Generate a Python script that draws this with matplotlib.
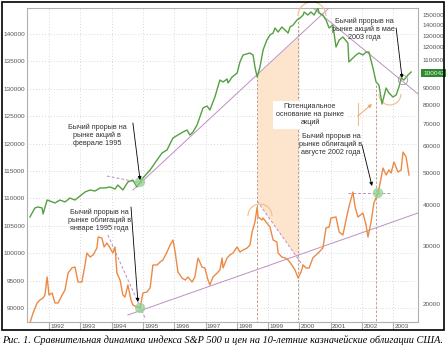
import numpy as np
import matplotlib
matplotlib.use('agg')
import matplotlib.pyplot as plt
from matplotlib.patches import Arc, Rectangle
from matplotlib.transforms import blended_transform_factory

# S&P 500 (left scale units)
spx_t = [1991.39, 1991.55, 1991.65, 1991.78, 1991.81, 1991.94, 1992.03, 1992.19, 1992.35, 1992.51,
         1992.67, 1992.83, 1992.99, 1993.15, 1993.31, 1993.47, 1993.63, 1993.79, 1993.95, 1994.11,
         1994.20, 1994.36, 1994.52, 1994.68, 1994.81, 1994.91, 1995.00, 1995.23, 1995.45, 1995.61,
         1995.77, 1995.96, 1996.12, 1996.28, 1996.41, 1996.50, 1996.60, 1996.73, 1996.82, 1996.92,
         1997.05, 1997.14, 1997.30, 1997.46, 1997.56, 1997.69, 1997.72, 1997.85, 1998.01, 1998.10,
         1998.20, 1998.42, 1998.52, 1998.58, 1998.65, 1998.74, 1998.84, 1998.96, 1999.06, 1999.16,
         1999.22, 1999.32, 1999.44, 1999.54, 1999.64, 1999.70, 1999.80, 1999.92, 2000.02, 2000.12,
         2000.15, 2000.27, 2000.37, 2000.47, 2000.59, 2000.63, 2000.75, 2000.85, 2000.95, 2001.07,
         2001.17, 2001.27, 2001.39, 2001.55, 2001.58, 2001.71, 2001.81, 2001.90, 2002.03, 2002.13,
         2002.22, 2002.35, 2002.45, 2002.54, 2002.64, 2002.77, 2002.86, 2002.99, 2003.09, 2003.18,
         2003.25, 2003.34, 2003.47, 2003.57]
spx = [106600, 108250, 108430, 108250, 107150, 109700, 109520, 109160, 109700, 109340,
       110070, 109700, 110430, 111160, 111530, 111350, 111900, 111900, 112080, 111710,
       112440, 111530, 112990, 113350, 112080, 112990, 113720, 115180, 117000, 118280,
       118830, 121020, 121570, 122110, 122480, 121570, 122110, 123390, 124850, 126500,
       126860, 126130, 128500, 131600, 131240, 131790, 131060, 132150, 132880, 134890,
       136170, 136530, 136170, 133980, 132150, 133980, 137080, 138900, 139820, 140180,
       141100, 140360, 141280, 140730, 140180, 141280, 141640, 142550, 142920, 143470,
       144010, 143470, 144010, 143470, 144740, 143830, 143470, 142550, 141100, 141640,
       137630, 138900, 139450, 138360, 134890, 135620, 136170, 136530, 136170, 136710,
       136710, 133790, 131240, 130690, 127220, 130150, 129230, 128500, 128870, 130330,
       131970, 131600, 132520, 133060]

# 10-year treasury prices (left scale units)
bond_t = [1991.39, 1991.49, 1991.62, 1991.71, 1991.81, 1991.87, 1991.94, 1992.00, 1992.10, 1992.19,
          1992.29, 1992.42, 1992.51, 1992.61, 1992.73, 1992.83, 1992.93, 1993.05, 1993.15, 1993.21,
          1993.31, 1993.41, 1993.53, 1993.57, 1993.69, 1993.76, 1993.85, 1993.95, 1994.04, 1994.11,
          1994.17, 1994.27, 1994.36, 1994.43, 1994.52, 1994.62, 1994.68, 1994.81, 1994.91, 1995.00,
          1995.13, 1995.23, 1995.32, 1995.45, 1995.55, 1995.64, 1995.77, 1995.87, 1995.96, 1996.03,
          1996.12, 1996.25, 1996.35, 1996.44, 1996.57, 1996.66, 1996.76, 1996.89, 1996.98, 1997.08,
          1997.14, 1997.24, 1997.37, 1997.46, 1997.53, 1997.56, 1997.69, 1997.78, 1997.88, 1998.01,
          1998.10, 1998.20, 1998.33, 1998.42, 1998.49, 1998.58, 1998.65, 1998.68, 1998.81, 1998.84,
          1998.96, 1999.06, 1999.16, 1999.28, 1999.32, 1999.44, 1999.54, 1999.64, 1999.76, 1999.86,
          1999.96, 2000.05, 2000.12, 2000.21, 2000.31, 2000.43, 2000.53, 2000.63, 2000.75, 2000.85,
          2000.95, 2001.01, 2001.17, 2001.27, 2001.39, 2001.49, 2001.58, 2001.71, 2001.78, 2001.87,
          2002.03, 2002.13, 2002.19, 2002.29, 2002.38, 2002.51, 2002.58, 2002.67, 2002.77, 2002.86,
          2002.93, 2003.02, 2003.15, 2003.25, 2003.31, 2003.41, 2003.50]
bond = [87260, 89080, 90910, 91450, 91820, 92370, 95650, 92370, 92730, 90910,
        90910, 92370, 93280, 96380, 97300, 97480, 94740, 94740, 97840, 100030,
        99300, 99670, 100950, 102950, 102770, 101130, 101860, 100950, 100030, 101130,
        96380, 95100, 92370, 92000, 94190, 91450, 90540, 90180, 90000, 92730,
        92920, 93650, 97840, 97840, 98390, 98750, 100220, 101490, 102400, 100220,
        96560, 95470, 95100, 95650, 94740, 95650, 99120, 97480, 97300, 95100,
        94190, 95650, 96380, 96930, 99120, 97300, 99120, 99670, 100030, 101130,
        100220, 100580, 100950, 101490, 103860, 105690, 108430, 106600, 106060, 106420,
        105510, 104780, 102400, 102040, 100030, 99300, 99120, 98750, 97840, 96930,
        95470, 96560, 97840, 97300, 97300, 99120, 99670, 100220, 100950, 104600,
        104780, 106420, 106600, 103860, 103320, 106060, 108430, 111160, 108430, 106600,
        107330, 105140, 102950, 105690, 109160, 110980, 112810, 115540, 114270, 115180,
        114630, 116640, 114810, 115180, 118460, 117550, 114270]

years = list(range(1992, 2004))
left_ticks = list(range(90000, 145000, 5000))
right_ticks = [20000, 30000, 40000, 50000, 60000, 70000, 80000, 90000,
               110000, 120000, 130000, 140000, 150000]
last_value = 100042

# trend lines (t, value)
spx_up = ([1994.68, 2000.98], [111530, 144930])
spx_down = ([2000.40, 2003.79], [144930, 129050])
spx_res95 = ([1993.85, 1994.97], [114080, 112810])
bond_down94 = ([1993.88, 1995.07], [103320, 88170])
bond_up = ([1994.52, 2003.79], [88720, 107330])
bond_down98 = ([1998.65, 2000.12], [109520, 97660])
bond_res02 = ([2001.55, 2002.93], [110980, 110980])

GREEN = '#55a040'
ORANGE = '#ec8a45'
PURPLE = '#bd8fc2'
BROWN = '#b5907c'
TXT = '#333333'
FONT = ['Liberation Sans Narrow', 'Liberation Sans', 'DejaVu Sans']

fig = plt.figure(figsize=(4.46, 3.5), dpi=100)
ax = fig.add_axes([27/446, 28/350, 391/446, 314/350])
ax.set_xlim(1991.297, 2003.789)
ax.set_ylim(87440, 144745)

for s in ax.spines.values():
    s.set_color('#b0b0b0')
    s.set_linewidth(0.8)

ax.set_yticks(left_ticks)
ax.set_yticklabels([str(v) for v in left_ticks], fontsize=4.6, color='#555555', family=FONT)
ax.tick_params(axis='y', length=0, pad=1.5)
ax.set_xticks(years)
ax.set_xticklabels([])
ax.set_xticks([y + 0.27 for y in years], minor=True)
ax.set_xticklabels([str(y) for y in years], minor=True, fontsize=4.6, color='#555555', family=FONT)
ax.tick_params(axis='x', which='major', direction='out', length=5.8, color='#b0b0b0', width=0.8)
ax.tick_params(axis='x', which='minor', length=0, pad=1.2)
ax.grid(True, which='major', color='#cccccc', linestyle=(0, (1, 2.5)), linewidth=0.6)
ax.set_axisbelow(True)

# shaded zone between stock support and bond down trend
ts = np.linspace(1998.65, 1999.96, 20)
top = np.interp(ts, *spx_up)
bot = np.interp(ts, *bond_down98)
ax.fill_between(ts, bot, top, color='#fde5cd', lw=0, zorder=1)

# vertical marker lines
ax.plot([1998.65, 1998.65], [np.interp(1998.65, *spx_up), 87440], color=BROWN, lw=0.6, ls=(0, (3, 2)), zorder=2)
ax.plot([1999.96, 1999.96], [143100, 87440], color=BROWN, lw=0.6, ls=(0, (3, 2)), zorder=2)
ax.plot([2002.45, 2002.45], [130700, 87440], color=BROWN, lw=0.6, ls=(0, (3, 2)), zorder=2)

# trend lines
ax.plot(*spx_up, color=PURPLE, lw=0.7, zorder=3)
ax.plot(*spx_down, color=PURPLE, lw=0.7, zorder=3)
ax.plot(*bond_up, color=PURPLE, lw=0.7, zorder=3)
ax.plot(*spx_res95, color=PURPLE, lw=0.7, ls=(0, (3, 2)), zorder=3)
ax.plot(*bond_down94, color=PURPLE, lw=0.7, ls=(0, (3, 2)), zorder=3)
ax.plot(*bond_down98, color=PURPLE, lw=0.7, ls=(0, (3, 2)), zorder=3)
ax.plot(*bond_res02, color=PURPLE, lw=0.7, ls=(0, (3, 2)), zorder=3)

# data lines
ax.plot(spx_t, spx, color=GREEN, lw=1.0, zorder=5)
ax.plot(bond_t, bond, color=ORANGE, lw=1.0, zorder=5)

# arcs around turning points
yr_px = 31.3
v_px = 182.5
for (t, v, r, a1, a2) in [(2000.40, 143290, 14, 0, 180),
                          (1998.74, 106780, 12, 0, 180),
                          (2002.89, 129050, 11, 180, 360)]:
    ax.add_patch(Arc((t, v), 2*r/yr_px, 2*r*v_px, theta1=a1, theta2=a2,
                     color='#f3bd8a', lw=0.8, zorder=4, clip_on=False))

# breakout markers
ax.scatter([1994.91, 1994.91, 2002.51], [112990, 90000, 110980], s=55,
           color='#8fd08f', alpha=0.75, edgecolors='none', zorder=6)
ax.scatter([2003.31], [131600], s=45, facecolors='none', edgecolors='#999999', lw=0.6, zorder=6)

# annotations
arrow = dict(arrowstyle='-|>', color='black', lw=0.6, mutation_scale=5, shrinkA=0, shrinkB=0)
ax.annotate('', xy=(1994.91, 113350), xytext=(1994.68, 123760), arrowprops=arrow, zorder=7)
ax.annotate('', xy=(1994.84, 91090), xytext=(1994.62, 108430), arrowprops=arrow, zorder=7)
ax.annotate('', xy=(2002.32, 112260), xytext=(2002.00, 119740), arrowprops=arrow, zorder=7)
ax.annotate('', xy=(2003.28, 131970), xytext=(2003.09, 141100), arrowprops=arrow, zorder=7)
ax.plot([2001.87, 2001.87], [127400, 123400], color='#f3bd8a', lw=0.8, zorder=4)
ax.annotate('', xy=(2002.32, 127220), xytext=(2001.87, 125040),
            arrowprops=dict(arrowstyle='-|>', color='#f0a868', lw=0.7, mutation_scale=5,
                            shrinkA=0, shrinkB=0), zorder=4)

tk = dict(fontsize=5.2, color=TXT, family=FONT, ha='center', va='center', linespacing=1.15, zorder=8)
ax.text(1993.53, 121570, 'Бычий прорыв на\nрынке акций в\nфеврале 1995', **tk)
ax.text(1993.60, 106060, 'Бычий прорыв на\nрынке облигаций в\nянваре 1995 года', **tk)
ax.text(2002.06, 140910, 'Бычий прорыв на\nрынке акций в мае\n2003 года', **tk)
ax.text(2000.34, 125220, 'Потенциальное\nоснование на рынке\nакций',
        bbox=dict(facecolor='white', edgecolor='none', pad=2), **tk)
ax.text(2001.01, 119930, 'Бычий прорыв на\nрынке облигаций в\nавгусте 2002 года', **tk)

# right log scale
ax2 = ax.twinx()
ax2.set_yscale('log')
ax2.set_ylim(17641, 157560)
ax2.yaxis.set_minor_locator(matplotlib.ticker.NullLocator())
ax2.set_yticks(right_ticks)
ax2.set_yticklabels([str(v) for v in right_ticks], fontsize=4.6, color='#555555', family=FONT)
ax2.tick_params(axis='y', length=0, pad=3.5)
for s in ax2.spines.values():
    s.set_visible(False)
tr = blended_transform_factory(ax2.transAxes, ax2.transData)
ax2.text(1.013, last_value, str(last_value), transform=tr, ha='left', va='center',
         fontsize=4.6, color='#e6f5e0', family=FONT,
         bbox=dict(facecolor='#2f8a2f', edgecolor='none', pad=1.2))

# outer frame and caption
fig.add_artist(Rectangle((1.5/446, 20/350), 442/446, 328.5/350, transform=fig.transFigure,
                         fill=False, edgecolor='black', lw=1.2))
fig.text(0.5, 10/350, 'Рис. 1. Сравнительная динамика индекса S&P 500 и цен на 10-летние казначейские облигации США.',
         ha='center', va='center', fontsize=7.4, style='italic',
         family=['Liberation Serif', 'DejaVu Serif'])

fig.savefig('out.png', dpi=100)
